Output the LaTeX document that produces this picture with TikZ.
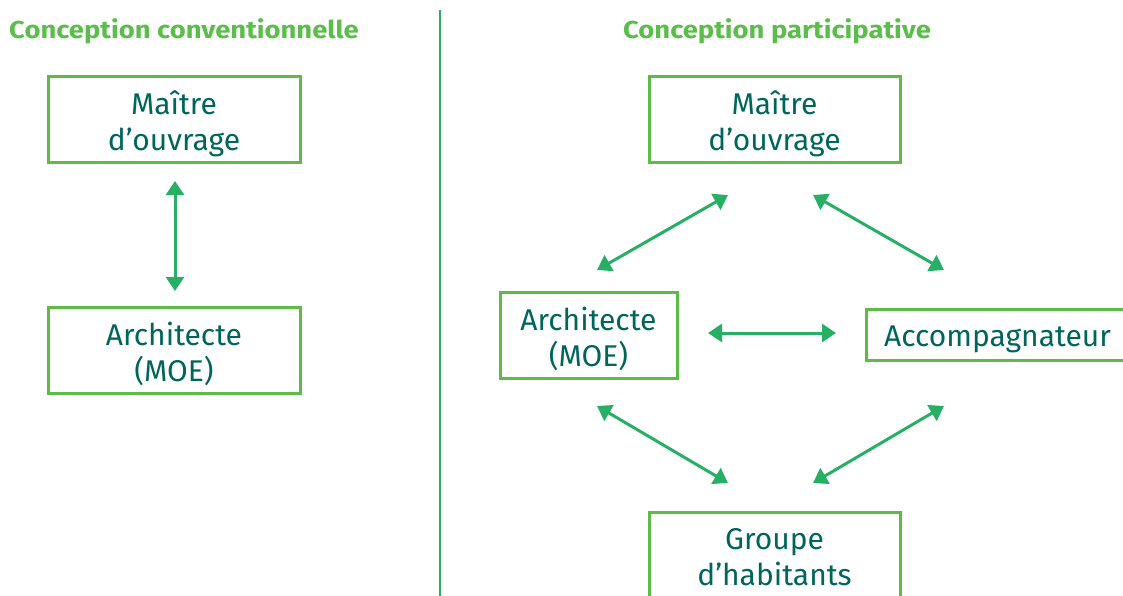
\documentclass[tikz,border=0pt]{standalone}
\usepackage{fontspec}
\setmainfont{Fira Sans}
\newfontfamily\ttlfont[FakeStretch=1.12]{Fira Sans}
\usetikzlibrary{arrows.meta}
\definecolor{titlegreen}{HTML}{5BBD4A}
\definecolor{boxgreen}{HTML}{5DBB46}
\definecolor{textteal}{HTML}{00665C}
\definecolor{arrowgreen}{HTML}{28AF66}
\tikzset{
  box/.style={draw=boxgreen, line width=3pt, inner sep=0pt},
  lbl/.style={text=textteal, align=center, inner sep=0pt, yshift=-4pt,
    font=\fontsize{30}{36}\selectfont},
  ttl/.style={text=titlegreen, font=\ttlfont\fontsize{24.5}{28}\selectfont\bfseries, inner sep=0pt},
  link/.style={draw=arrowgreen, line width=3pt, {Triangle[length=14pt,width=18pt]}-{Triangle[length=14pt,width=18pt]}},
}
\begin{document}
\begin{tikzpicture}[x=1pt,y=-1pt]
\useasboundingbox (0,0) rectangle (1123,596);
\node[ttl] (t1) at (184,31.5) {Conception conventionnelle};
\node[ttl] (t2) at (777,31.5) {Conception participative};
\coordinate (d1) at (440,10);
\coordinate (d2) at (440,600);
\draw[arrowgreen, line width=2.5pt] (d1) -- (d2);
% left
\node[box, minimum width=252pt, minimum height=86pt, label={[lbl]center:Maître\\d’ouvrage}] (lm) at (174,120) {};
\node[box, minimum width=252pt, minimum height=86pt, label={[lbl]center:Architecte\\(MOE)}] (la) at (174,350) {};
\coordinate (l1) at (175,181);
\coordinate (l2) at (175,291);
\draw[link] (l1) -- (l2);
% right
\node[box, minimum width=251pt, minimum height=86pt, label={[lbl]center:Maître\\d’ouvrage}] (rm) at (774.5,120) {};
\node[box, minimum width=177pt, minimum height=86pt, label={[lbl]center:Architecte\\(MOE)}] (ra) at (588.5,335) {};
\node[box, minimum width=263pt, minimum height=51pt, label={[lbl,yshift=-1pt]center:Accompagnateur}] (rc) at (997.5,334.5) {};
\node[box, minimum width=251pt, minimum height=90pt, label={[lbl,yshift=4pt]center:Groupe\\d’habitants}] (rg) at (774.5,557) {};
\coordinate (a1) at (728,195);
\coordinate (a2) at (597,270);
\coordinate (b1) at (813,195);
\coordinate (b2) at (944,270);
\coordinate (c1) at (708,333);
\coordinate (c2) at (836,333);
\coordinate (e1) at (597,406);
\coordinate (e2) at (728,483);
\coordinate (f1) at (944,406);
\coordinate (f2) at (813,483);
\draw[link] (a1) -- (a2);
\draw[link] (b1) -- (b2);
\draw[link] (c1) -- (c2);
\draw[link] (e1) -- (e2);
\draw[link] (f1) -- (f2);
\end{tikzpicture}
\end{document}
